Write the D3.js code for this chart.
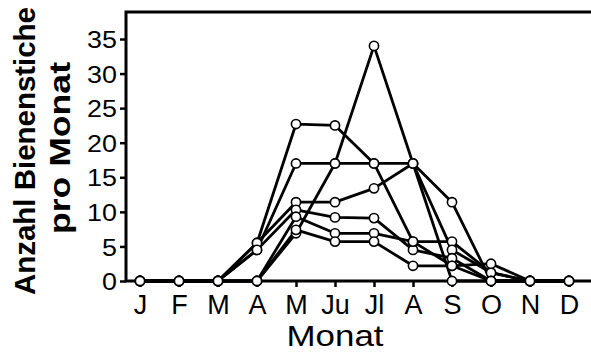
<!DOCTYPE html>
<html>
<head>
<meta charset="utf-8">
<script src="https://cdn.jsdelivr.net/npm/d3@7"></script>
<style>
  body { margin: 0; background: #fff; }
  svg { display: block; }
  text { font-family: "Liberation Sans", Arial, sans-serif; fill: #000; }
</style>
</head>
<body>
<div id="chart"></div>
<script>
// month labels on the x axis
var months = ["J", "F", "M", "A", "M", "Ju", "Jl", "A", "S", "O", "N", "D"];
var yTicks = [0, 5, 10, 15, 20, 25, 30, 35];

// stings per month, one array per colony / year
var s1 = [0, 0, 0, 5.5, 22.7, 22.5, 17, 5.7, 5.7, 1.2, 0, 0];
var s2 = [0, 0, 0, 4.5, 17, 17, 17, 17, 11.4, 0, 0, 0];
var s3 = [0, 0, 0, 0, 6.9, 17, 34, 17, 0, 0, 0, 0];
var s4 = [0, 0, 0, 5.5, 11.4, 11.4, 13.4, 17, 4.5, 1.2, 0, 0];
var s5 = [0, 0, 0, 4.5, 10.3, 9.2, 9.1, 4.5, 3.3, 0, 0, 0];
var s6 = [0, 0, 0, 0, 9.3, 6.9, 6.9, 5.7, 2.2, 2.5, 0, 0];
var s7 = [0, 0, 0, 0, 7.4, 5.7, 5.7, 2.2, 2.2, 0, 0, 0];
var allSeries = [s1, s2, s3, s4, s5, s6, s7];

var W = 591, H = 354;
var svg = d3.select("#chart").append("svg")
    .attr("width", W)
    .attr("height", H);

var x = d3.scalePoint()
    .domain(d3.range(months.length))
    .range([140, 569]);
var y = d3.scaleLinear()
    .domain([0, 35])
    .range([281, 39]);
var yTop = 12;

// frame: left, bottom and top lines
svg.append("path")
    .attr("d", "M591," + yTop + "H126V" + y(0) + "H591")
    .attr("fill", "none")
    .attr("stroke", "#000")
    .attr("stroke-width", 3);

// y axis
var yAxis = svg.append("g")
    .attr("transform", "translate(126,0)")
    .call(d3.axisLeft(y).tickValues(yTicks).tickSize(6).tickPadding(3));
yAxis.select(".domain").remove();
yAxis.selectAll(".tick line").attr("stroke", "#000").attr("stroke-width", 2.5);
yAxis.selectAll(".tick text")
    .attr("font-size", 24)
    .attr("font-family", "Liberation Sans, Arial, sans-serif")
    .attr("dy", "0.36em")
    .attr("transform", "scale(1.12,1)")
    .attr("x", -9 / 1.12);

// x axis
var xAxis = svg.append("g")
    .attr("transform", "translate(0," + y(0) + ")")
    .call(d3.axisBottom(x).tickFormat(function (i) { return months[i]; }).tickSize(6).tickPadding(8));
xAxis.select(".domain").remove();
xAxis.selectAll(".tick line").attr("stroke", "#000").attr("stroke-width", 2.5);
xAxis.selectAll(".tick text")
    .attr("font-size", 27)
    .attr("font-family", "Liberation Sans, Arial, sans-serif");

// series lines
var line = d3.line()
    .x(function (d, i) { return x(i); })
    .y(function (d) { return y(d); });

svg.append("g").selectAll("path")
    .data(allSeries)
    .join("path")
    .attr("d", line)
    .attr("fill", "none")
    .attr("stroke", "#000")
    .attr("stroke-width", 2.8)
    .attr("stroke-linejoin", "round");

// open circle markers
var pts = [];
allSeries.forEach(function (s) {
    s.forEach(function (v, i) { pts.push({ i: i, v: v }); });
});
svg.append("g").selectAll("circle")
    .data(pts)
    .join("circle")
    .attr("cx", function (d) { return x(d.i); })
    .attr("cy", function (d) { return y(d.v); })
    .attr("r", 4.6)
    .attr("fill", "#fff")
    .attr("stroke", "#000")
    .attr("stroke-width", 1.6);

// axis titles
svg.append("text")
    .attr("x", 335)
    .attr("y", 346)
    .attr("text-anchor", "middle")
    .attr("font-size", 29)
    .attr("textLength", 97)
    .attr("lengthAdjust", "spacingAndGlyphs")
    .text("Monat");

svg.append("text")
    .attr("transform", "translate(35,151) rotate(-90)")
    .attr("text-anchor", "middle")
    .attr("font-size", 29)
    .attr("font-weight", "bold")
    .attr("textLength", 288)
    .attr("lengthAdjust", "spacingAndGlyphs")
    .text("Anzahl Bienenstiche");

svg.append("text")
    .attr("transform", "translate(70,148) rotate(-90)")
    .attr("text-anchor", "middle")
    .attr("font-size", 29)
    .attr("font-weight", "bold")
    .attr("textLength", 172)
    .attr("lengthAdjust", "spacingAndGlyphs")
    .text("pro Monat");
</script>
</body>
</html>
